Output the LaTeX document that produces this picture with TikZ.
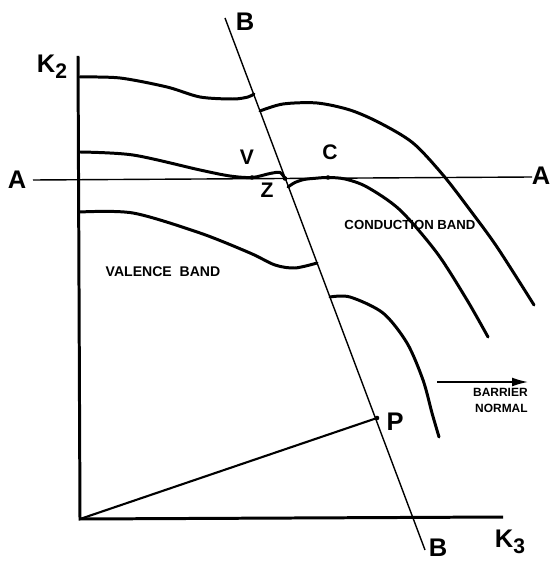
\documentclass[tikz,border=0pt]{standalone}
\usepackage{fontspec}
\setmainfont{Liberation Sans}
\usetikzlibrary{arrows.meta}
\tikzset{
  band/.style={line width=1.7pt,line cap=round,smooth},
  axis/.style={line width=1.7pt},
  cut/.style={line width=0.8pt},
  big/.style={font=\bfseries\fontsize{14.5}{16}\selectfont,inner sep=1pt},
  mid/.style={font=\bfseries\fontsize{12}{14}\selectfont,inner sep=1pt},
  tag/.style={font=\bfseries\fontsize{7.5}{9}\selectfont},
}
\newcommand{\sbs}[1]{\raisebox{-0.45ex}{\fontsize{12}{13}\selectfont #1}}

\begin{document}
\begin{tikzpicture}[x=0.02cm,y=-0.02cm,>={Latex[length=9pt,width=5pt]}]
  \useasboundingbox (0,0) rectangle (549,563);
  \coordinate (O) at (80,519);
  \coordinate (Ktop) at (78,56);
  \coordinate (Kend) at (503,517);
  \coordinate (Aw) at (33,180);
  \coordinate (Ae) at (532,177);
  \coordinate (Bn) at (225,18);
  \coordinate (Bs) at (425,550);
  \coordinate (P) at (377,418);
  \coordinate (v) at (252,177.5);
  \coordinate (z) at (285,178.5);
  \coordinate (c) at (328,177.5);

  \draw[axis] (Ktop) -- (O) -- (Kend);
  \draw[cut] (Aw) -- (Ae);
  \draw[cut] (Bn) -- (Bs);
  \draw[line width=1.2pt] (O) -- (P);

  \draw[band] plot coordinates {(80,77) (120,78) (167,87) (200,97) (233,99) (248,97) (254,94)};
  \draw[band] plot coordinates {(80,152) (133,155) (200,170) (230,176) (v) (270,173.5) (280,172.5) (z)};
  \draw[band] plot coordinates {(80,212) (133,213) (200,233) (250,253) (275,265) (295,268) (317,263)};

  \draw[band] plot coordinates {(260,111) (283,104) (317,103) (350,110) (380,123) (413,143) (443,175) (470,210) (497,247) (534,305)};
  \draw[band] plot coordinates {(288,187) (295,182.5) (304,179.5) (315,178.3) (c) (345,179) (367,187) (400,210) (437,253) (467,300) (488,337)};
  \draw[band] plot coordinates {(330,297) (350,297) (383,313) (407,343) (423,380) (432,413) (439,437)};

  \foreach \p in {v,z,c,P} \fill (\p) circle (1.3pt);

  \node[big] (K2) at (52,67) {K\sbs{2}};
  \node[big] (K3) at (510,542) {K\sbs{3}};
  \node[big] (Awl) at (17,180) {A};
  \node[big] (Ael) at (541,176) {A};
  \node[big] (Bnl) at (245,22) {B};
  \node[big] (Bsl) at (438,548) {B};
  \node[big] (Pl) at (395,422) {P};
  \node[mid] (vl) at (247,157) {V};
  \node[mid] (zl) at (267,190) {Z};
  \node[mid] (cl) at (330,152) {C};
  \node[tag,font=\bfseries\fontsize{8}{9}\selectfont] (val) at (163,272) {VALENCE\ \ BAND};
  \node[tag] (con) at (410,225) {CONDUCTION BAND};

  \coordinate (Nw) at (437,382);
  \coordinate (Ne) at (528,382);
  \draw[->,line width=0.9pt] (Nw) -- (Ne);
  \node[tag,font=\bfseries\fontsize{6.8}{9}\selectfont,align=right,anchor=north east,inner sep=0pt] (bn) at (528,388) {BARRIER\\NORMAL};
\end{tikzpicture}
\end{document}
